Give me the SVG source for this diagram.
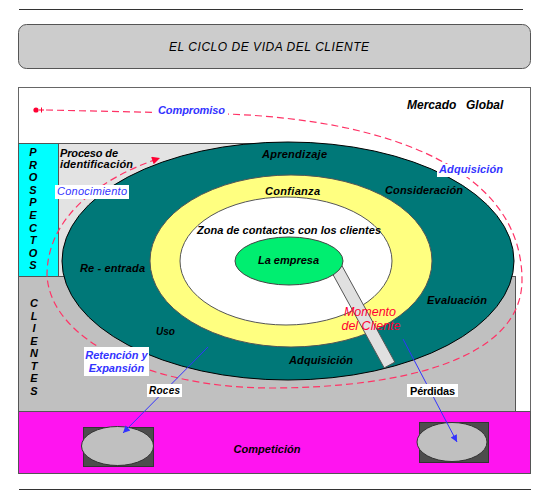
<svg xmlns="http://www.w3.org/2000/svg" width="540" height="499" viewBox="0 0 540 499">
<style>
.t{font-family:"Liberation Sans",Arial,Helvetica,sans-serif;font-weight:bold;font-style:italic;font-size:11px;fill:#000}
.blue{fill:#3333ff}
.m{text-anchor:middle}
.lbl{fill:#fff;stroke:none}
.dash{fill:none;stroke:#ff3366;stroke-width:1.2;stroke-dasharray:7 4}
.bl{fill:none;stroke:#3333ff;stroke-width:1}
.edge{stroke:#555;stroke-width:1}
.red{font-family:"Liberation Sans",Arial,Helvetica,sans-serif;font-style:italic;font-size:12.5px;fill:#ff0033;text-anchor:middle}
</style>
<defs>
<marker id="ab" viewBox="0 0 10 10" refX="10" refY="5" markerWidth="9" markerHeight="7" markerUnits="userSpaceOnUse" orient="auto"><path d="M0,0 L10,5 L0,10 z" fill="#3333ff"/></marker>
<marker id="ar" viewBox="0 0 10 10" refX="10" refY="5" markerWidth="11" markerHeight="8" markerUnits="userSpaceOnUse" orient="auto"><path d="M0,0 L10,5 L0,10 z" fill="#ff0033"/></marker>
</defs>
<rect width="540" height="499" fill="#fff"/>
<line x1="19" y1="9.5" x2="523" y2="9.5" stroke="#333" stroke-width="1.2"/>
<line x1="19" y1="489.5" x2="531" y2="489.5" stroke="#333" stroke-width="1.2"/>

<g id="title">
<rect x="18.5" y="24.5" width="512" height="44" rx="8" fill="#cccccc" stroke="#555"/>
<text x="269" y="51" class="t m" style="font-weight:normal;font-size:12px" textLength="200" lengthAdjust="spacing">EL CICLO DE VIDA DEL CLIENTE</text>
</g>

<g id="mercado">
<rect x="18.5" y="87.5" width="512" height="386" fill="#fff" stroke="#666"/>
<text x="407" y="109" class="t" style="font-size:12px">Mercado <tspan x="466">Global</tspan></text>
</g>

<g id="proceso">
<rect x="58.5" y="143.5" width="197" height="133" fill="#e3e3e3" class="edge"/>
</g>
<g id="prospectos">
<rect x="18.5" y="143.5" width="40" height="133" fill="#00ffff" class="edge"/>
<text class="t m"><tspan x="33" y="156">P</tspan><tspan x="33" y="168.6">R</tspan><tspan x="33" y="181.2">O</tspan><tspan x="33" y="193.8">S</tspan><tspan x="33" y="206.4">P</tspan><tspan x="33" y="219">E</tspan><tspan x="33" y="231.6">C</tspan><tspan x="33" y="244.2">T</tspan><tspan x="33" y="256.8">O</tspan><tspan x="33" y="269.4">S</tspan></text>
</g>
<g id="clientes">
<rect x="18.5" y="276.5" width="497" height="135" fill="#c0c0c0" class="edge"/>
<text class="t m"><tspan x="34" y="307">C</tspan><tspan x="34" y="319.5">L</tspan><tspan x="34" y="332">I</tspan><tspan x="34" y="344.5">E</tspan><tspan x="34" y="357">N</tspan><tspan x="34" y="369.5">T</tspan><tspan x="34" y="382">E</tspan><tspan x="34" y="394.5">S</tspan></text>
</g>
<g id="competicion">
<rect x="18.5" y="411.5" width="512" height="62" fill="#ff14f0" class="edge"/>
<text x="267" y="453" class="t m" textLength="67" lengthAdjust="spacing">Competición</text>
</g>
<g id="competidor1">
<rect x="83.5" y="427.5" width="70" height="39" fill="#4d4d4d" stroke="#333"/>
<ellipse cx="117.5" cy="446" rx="36" ry="19.5" fill="#c0c0c0" stroke="#333"/>
</g>
<g id="competidor2">
<rect x="419.5" y="422.5" width="69" height="40" fill="#4d4d4d" stroke="#333"/>
<ellipse cx="452" cy="442" rx="35" ry="19.5" fill="#c0c0c0" stroke="#333"/>
</g>

<g id="ciclo">
<ellipse cx="288" cy="261" rx="226" ry="119" fill="#007878" stroke="#000"/>
</g>
<g id="confianza">
<ellipse cx="291" cy="261" rx="141" ry="86" fill="#ffff80" stroke="#555"/>
</g>
<g id="zona">
<ellipse cx="286" cy="261" rx="106" ry="64" fill="#fff" stroke="#555"/>
</g>
<g id="momento">
<polygon points="327.7,264.9 338.3,259.1 394.8,362.1 384.2,367.9" fill="#e0e0e0" stroke="#555"/>
</g>
<g id="empresa">
<ellipse cx="289" cy="261" rx="54" ry="24" fill="#00ee70" stroke="#444"/>
<text x="258" y="264" class="t" textLength="61" lengthAdjust="spacing">La empresa</text>
</g>

<g id="connectors">
<circle cx="36" cy="110" r="2.6" fill="#ff0033"/>
<path d="M39,110 H44 M41.5,107.5 V112.5" stroke="#ff0033" stroke-width="1"/>
<path class="dash" d="M46,110 L227,114 C390,120 522,170 522,280 C522,360 400,388 270,388 C150,388 50,340 47,275 C47,220 95,180 160,158" marker-end="url(#ar)"/>
<line class="bl" x1="208" y1="347" x2="123" y2="433" marker-end="url(#ab)"/>
<line class="bl" x1="403" y1="339" x2="457" y2="442" marker-end="url(#ab)"/>
</g>

<g id="labels">
<rect class="lbl" x="156" y="104" width="72" height="13"/>
<text x="158" y="114" class="t blue" textLength="67" lengthAdjust="spacing">Compromiso</text>
<rect class="lbl" x="437" y="164" width="68" height="13"/>
<text x="439" y="173" class="t blue" textLength="64" lengthAdjust="spacing">Adquisición</text>
<rect class="lbl" x="55" y="185" width="74" height="14"/>
<text x="57" y="195" class="t blue" style="font-weight:normal" textLength="70" lengthAdjust="spacing">Conocimiento</text>
<rect class="lbl" x="84" y="347" width="65" height="29"/>
<text class="t blue m"><tspan x="116.5" y="359">Retención y</tspan><tspan x="116.5" y="372">Expansión</tspan></text>
<rect class="lbl" x="147" y="384" width="35" height="13"/>
<text x="149" y="394" class="t" style="font-size:10px" textLength="31" lengthAdjust="spacing">Roces</text>
<rect class="lbl" x="407" y="384" width="51" height="13"/>
<text x="410" y="395" class="t" style="font-style:normal" textLength="45" lengthAdjust="spacing">Pérdidas</text>

<text x="60" y="157" class="t" textLength="58" lengthAdjust="spacing">Proceso de</text>
<text x="60" y="168" class="t" textLength="73" lengthAdjust="spacing">identificación</text>
<text x="262" y="158" class="t" textLength="65" lengthAdjust="spacing">Aprendizaje</text>
<text x="385" y="194" class="t" textLength="78" lengthAdjust="spacing">Consideración</text>
<text x="265" y="195" class="t" textLength="55" lengthAdjust="spacing">Confianza</text>
<text x="197" y="234" class="t" textLength="184" lengthAdjust="spacing">Zona de contactos con los clientes</text>
<text x="80" y="272" class="t" textLength="65" lengthAdjust="spacing">Re - entrada</text>
<text x="427" y="304" class="t" textLength="60" lengthAdjust="spacing">Evaluación</text>
<text x="289" y="364" class="t" textLength="64" lengthAdjust="spacing">Adquisición</text>
<text x="156" y="335" class="t" style="font-size:10px">Uso</text>
<text class="red"><tspan x="370" y="316">Momento</tspan><tspan x="371" y="330">del  Cliente</tspan></text>
</g>
</svg>
